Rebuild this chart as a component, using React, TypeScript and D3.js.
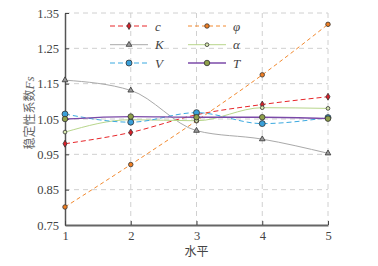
import React, { useEffect, useRef } from "react";
import * as d3 from "d3";

const levels = [1, 2, 3, 4, 5];
const yTicks = [0.75, 0.85, 0.95, 1.05, 1.15, 1.25, 1.35];

const cVals = [0.98, 1.012, 1.062, 1.091, 1.113];
const phiVals = [0.801, 0.921, 1.045, 1.175, 1.318];
const kVals = [1.16, 1.131, 1.017, 0.993, 0.953];
const alphaVals = [1.013, 1.048, 1.045, 1.082, 1.08];
const vVals = [1.064, 1.041, 1.068, 1.037, 1.054];
const tVals = [1.05, 1.057, 1.055, 1.055, 1.051];

const seriesNames = ["c", "φ", "K", "α", "V", "T"];

const serif = "'Times New Roman', 'Liberation Serif', 'DejaVu Serif', serif";

type Series = {
  name: string;
  values: number[];
  color: string;
  dash: string;
  width: number;
  marker: string;
  fill: string;
  size: number;
};

const series: Series[] = [
  { name: seriesNames[0], values: cVals, color: "#e8262a", dash: "5,3", width: 1, marker: "diamond", fill: "#d8202a", size: 14 },
  { name: seriesNames[1], values: phiVals, color: "#f28a30", dash: "4,3", width: 1, marker: "circle", fill: "#f07e22", size: 16 },
  { name: seriesNames[2], values: kVals, color: "#a9a9a9", dash: "", width: 1, marker: "triangle", fill: "#9a9a9a", size: 14 },
  { name: seriesNames[3], values: alphaVals, color: "#b8d68c", dash: "", width: 1, marker: "circle", fill: "#d8e8b0", size: 11 },
  { name: seriesNames[4], values: vVals, color: "#3ba9e0", dash: "5,3", width: 1, marker: "circle", fill: "#3aa0da", size: 28 },
  { name: seriesNames[5], values: tVals, color: "#7b4aa8", dash: "", width: 1.3, marker: "circle", fill: "#8fa04a", size: 24 },
];

const symbolFor = (m: string) =>
  m === "diamond" ? d3.symbolDiamond : m === "triangle" ? d3.symbolTriangle : d3.symbolCircle;

export default function App() {
  const svgRef = useRef<SVGSVGElement>(null);

  useEffect(() => {
    const svg = d3.select(svgRef.current);
    svg.selectAll("*").remove();

    const left = 65, right = 328, top = 13, bottom = 225;
    const x = d3.scaleLinear().domain([1, 5]).range([left, right]);
    const y = d3.scaleLinear().domain([0.75, 1.35]).range([bottom, top]);

    // grid
    const grid = svg.append("g");
    grid
      .selectAll(".hg")
      .data(yTicks.slice(1))
      .join("line")
      .attr("x1", left)
      .attr("x2", right)
      .attr("y1", (d) => y(d))
      .attr("y2", (d) => y(d))
      .attr("stroke", "#d0d0d0")
      .attr("stroke-dasharray", "5,4");
    grid
      .selectAll(".vg")
      .data(levels.slice(1))
      .join("line")
      .attr("x1", (d) => x(d))
      .attr("x2", (d) => x(d))
      .attr("y1", top)
      .attr("y2", bottom)
      .attr("stroke", "#d0d0d0")
      .attr("stroke-dasharray", "5,4");

    // axes
    const yAxis = svg
      .append("g")
      .attr("transform", `translate(${left},0)`)
      .call(d3.axisLeft(y).tickValues(yTicks).tickFormat(d3.format(".2f")).tickSizeInner(-4).tickSizeOuter(0).tickPadding(6));
    yAxis.attr("font-family", serif).attr("font-size", 12.5);
    yAxis.select(".domain").attr("stroke", "#555").attr("stroke-width", 1.5);
    yAxis.selectAll(".tick line").attr("stroke", "#444");
    yAxis.selectAll("text").attr("fill", "#444");

    const xAxis = svg
      .append("g")
      .attr("transform", `translate(0,${bottom})`)
      .call(d3.axisBottom(x).tickValues(levels).tickFormat(d3.format("d")).tickSizeInner(-4).tickSizeOuter(0).tickPadding(6));
    xAxis.attr("font-family", serif).attr("font-size", 12.5);
    xAxis.select(".domain").attr("stroke", "#666").attr("stroke-width", 2.2);
    xAxis.selectAll(".tick line").attr("stroke", "#444");
    xAxis.selectAll("text").attr("fill", "#444");

    // axis titles
    svg
      .append("text")
      .attr("x", (left + right) / 2)
      .attr("y", 256)
      .attr("text-anchor", "middle")
      .attr("font-family", "'Noto Sans CJK SC'")
      .attr("font-size", 12)
      .attr("fill", "#444")
      .text("水平");
    const yl = svg
      .append("text")
      .attr("transform", `translate(34,${(top + bottom) / 2 - 6}) rotate(-90)`)
      .attr("text-anchor", "middle")
      .attr("font-family", "'Noto Sans CJK SC'")
      .attr("font-size", 12)
      .attr("fill", "#666");
    yl.append("tspan").text("稳定性系数");
    yl.append("tspan")
      .attr("font-family", serif)
      .attr("font-style", "italic")
      .attr("font-size", 13)
      .text("Fs");

    const lineGen = d3
      .line<number>()
      .x((_, i) => x(levels[i]))
      .y((d) => y(d))
      .curve(d3.curveMonotoneX);

    const plot = svg.append("g");
    series.forEach((s) => {
      plot
        .append("path")
        .datum(s.values)
        .attr("d", lineGen)
        .attr("fill", "none")
        .attr("stroke", s.color)
        .attr("stroke-width", s.width)
        .attr("stroke-dasharray", s.dash || null);
    });
    series.forEach((s) => {
      plot
        .selectAll(null)
        .data(s.values)
        .join("path")
        .attr("transform", (d, i) => `translate(${x(levels[i])},${y(d)})`)
        .attr("d", d3.symbol().type(symbolFor(s.marker)).size(s.size)())
        .attr("fill", s.fill)
        .attr("stroke", "#333")
        .attr("stroke-width", 0.8);
    });

    // legend
    const legend = svg.append("g");
    const colX = [110, 188];
    const rowY = [26, 44.7, 63];
    series.forEach((s, i) => {
      const lx = colX[i % 2];
      const ly = rowY[Math.floor(i / 2)];
      const g = legend.append("g").attr("transform", `translate(${lx},${ly})`);
      g.append("line")
        .attr("x1", 0)
        .attr("x2", 38)
        .attr("stroke", s.color)
        .attr("stroke-width", s.width)
        .attr("stroke-dasharray", s.dash || null);
      g.append("path")
        .attr("transform", "translate(19,0)")
        .attr("d", d3.symbol().type(symbolFor(s.marker)).size(s.size)())
        .attr("fill", s.fill)
        .attr("stroke", "#333")
        .attr("stroke-width", 0.8);
      g.append("text")
        .attr("x", 45)
        .attr("y", 4.5)
        .attr("font-family", serif)
        .attr("font-style", "italic")
        .attr("font-size", 13)
        .attr("fill", "#444")
        .text(s.name);
    });
  }, []);

  return (
    <svg
      ref={svgRef}
      width={378}
      height={266}
      style={{ position: "absolute", left: 0, top: 0, background: "#fff" }}
    />
  );
}
